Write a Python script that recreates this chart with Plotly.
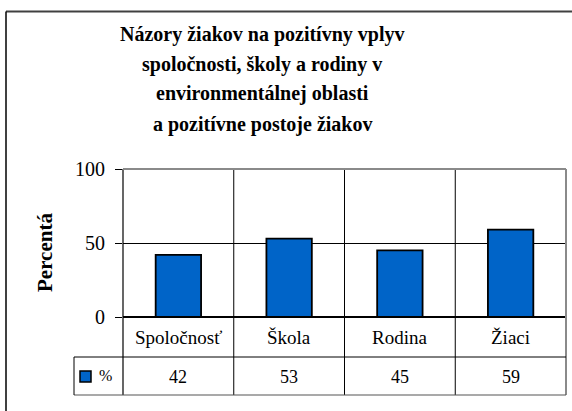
import plotly.graph_objects as go

categories = ["Spoločnosť", "Škola", "Rodina", "Žiaci"]
values = [42, 53, 45, 59]
series_name = "%"
title_lines = [
    "Názory žiakov na pozitívny vplyv",
    "spoločnosti, školy a rodiny v",
    "environmentálnej oblasti",
    "a pozitívne postoje žiakov",
]
y_title = "Percentá"
y_ticks = [0, 50, 100]

BAR = "#0064C8"
FONT = "Liberation Serif"

W, H = 572, 411
L, R, T, B = 123, 6, 169, 94
PW, PH = W - L - R, H - T - B

def px_x(p):
    return (p - L) / PW

def px_y(p):
    return (H - B - p) / PH

fig = go.Figure()
fig.add_trace(go.Bar(
    x=categories, y=values, name=series_name,
    marker=dict(color=BAR, line=dict(color="black", width=1.8)),
    width=0.41, showlegend=False,
))

shapes = []
row1_bot = px_y(357)
row2_bot = px_y(395)
tbl_left = px_x(74)
for i in range(len(categories) - 1):
    shapes.append(dict(type="line", xref="x", yref="paper", x0=i + 0.5, x1=i + 0.5,
                       y0=row2_bot, y1=1, line=dict(color="black", width=1)))
shapes.append(dict(type="line", xref="paper", yref="paper", x0=0, x1=0, y0=row2_bot, y1=1,
                   line=dict(color="black", width=1.2)))
shapes.append(dict(type="line", xref="paper", yref="paper", x0=1, x1=1, y0=row2_bot, y1=1,
                   line=dict(color="#8a8a8a", width=2)))
shapes.append(dict(type="line", xref="paper", yref="paper", x0=0, x1=1, y0=1, y1=1,
                   line=dict(color="#8a8a8a", width=2)))
shapes.append(dict(type="line", xref="paper", yref="paper", x0=tbl_left, x1=1, y0=row1_bot, y1=row1_bot,
                   line=dict(color="black", width=1)))
shapes.append(dict(type="line", xref="paper", yref="paper", x0=tbl_left, x1=1, y0=row2_bot, y1=row2_bot,
                   line=dict(color="#555555", width=1.2)))
shapes.append(dict(type="line", xref="paper", yref="paper", x0=tbl_left, x1=tbl_left, y0=row2_bot, y1=row1_bot,
                   line=dict(color="black", width=1)))
shapes.append(dict(type="rect", xref="paper", yref="paper",
                   x0=px_x(80), x1=px_x(91), y0=px_y(382), y1=px_y(371),
                   fillcolor=BAR, line=dict(color="black", width=1.5)))
shapes.append(dict(type="line", xref="paper", yref="paper", x0=px_x(6), x1=px_x(600),
                   y0=px_y(11.5), y1=px_y(11.5), line=dict(color="#404040", width=2)))
shapes.append(dict(type="line", xref="paper", yref="paper", x0=px_x(6), x1=px_x(6),
                   y0=px_y(11.5), y1=px_y(430), line=dict(color="black", width=1.5)))

annotations = []
title_centers = [34, 64, 93.5, 124]
for line, cy in zip(title_lines, title_centers):
    annotations.append(dict(text=f"<b>{line}</b>", xref="paper", yref="paper",
                            x=px_x(262), y=px_y(cy), xanchor="center", yanchor="middle",
                            showarrow=False, font=dict(family=FONT, size=20, color="black")))
annotations.append(dict(text=f"<b>{y_title}</b>", xref="paper", yref="paper",
                        x=px_x(45), y=px_y(253), textangle=-90, xanchor="center", yanchor="middle",
                        showarrow=False, font=dict(family=FONT, size=21, color="black")))
for c, v in zip(categories, values):
    annotations.append(dict(text=c, xref="x", yref="paper", x=c, y=px_y(337),
                            xanchor="center", yanchor="middle", showarrow=False,
                            font=dict(family=FONT, size=19, color="black")))
    annotations.append(dict(text=str(v), xref="x", yref="paper", x=c, y=px_y(376.5),
                            xanchor="center", yanchor="middle", showarrow=False,
                            font=dict(family=FONT, size=18, color="black")))
annotations.append(dict(text=series_name, xref="paper", yref="paper", x=px_x(105), y=px_y(375),
                        xanchor="center", yanchor="middle", showarrow=False,
                        font=dict(family=FONT, size=16, color="black")))

fig.update_layout(
    width=W, height=H,
    margin=dict(l=L, r=R, t=T, b=B, pad=0),
    paper_bgcolor="white", plot_bgcolor="white",
    font=dict(family=FONT, color="black"),
    xaxis=dict(type="category", range=[-0.5, len(categories) - 0.5], showticklabels=False,
               showgrid=False, zeroline=False, showline=False, ticks=""),
    yaxis=dict(range=[0, 100], tickvals=y_ticks, ticks="outside", ticklen=7, tickcolor="black",
               tickwidth=1, showgrid=True, gridcolor="black", gridwidth=1,
               zeroline=True, zerolinecolor="black", zerolinewidth=1.5,
               showline=False, tickfont=dict(family=FONT, size=20, color="black"),
               ticklabelstandoff=6),
    shapes=shapes, annotations=annotations, bargap=0.59,
)

fig.write_html("out.html", config={"displayModeBar": False},
               post_script="document.body.style.margin='0px';")
